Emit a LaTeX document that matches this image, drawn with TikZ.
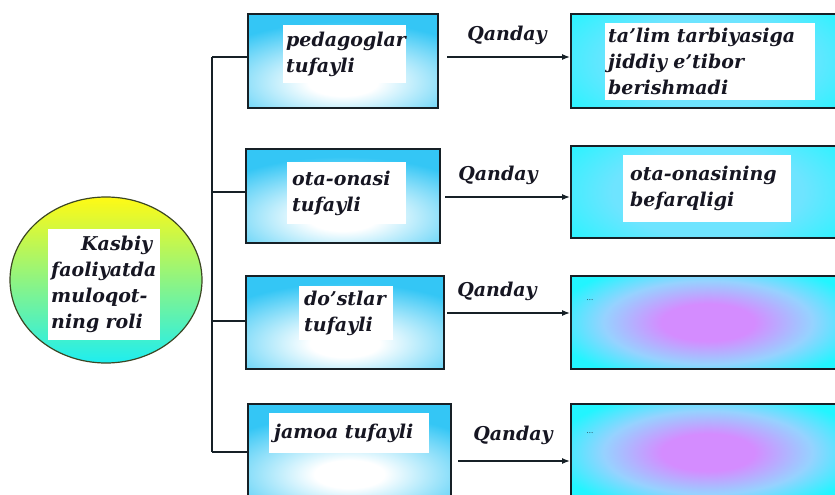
\documentclass[tikz,border=0pt]{standalone}
\usepackage{fontspec}
\setmainfont{DejaVu Serif}
\usetikzlibrary{arrows.meta,calc,shapes.geometric}

\definecolor{lblue}{RGB}{52,198,245}
\definecolor{rcyan}{RGB}{34,245,255}
\definecolor{pinkc}{RGB}{212,140,255}
\definecolor{midblue}{RGB}{150,210,255}
\definecolor{paleblue}{RGB}{110,228,255}
\definecolor{ybright}{RGB}{255,250,20}
\definecolor{ymid}{RGB}{205,248,150}
\definecolor{cbright}{RGB}{30,238,240}
\definecolor{edge}{RGB}{22,32,38}
\definecolor{rim}{RGB}{60,70,35}
\definecolor{ink}{RGB}{22,22,34}

% white glow low in the left-hand boxes
\pgfdeclareradialshading{whiteglow}{\pgfpoint{0bp}{0bp}}{%
  color(0bp)=(white); color(3bp)=(white); color(13bp)=(lblue);
  color(50bp)=(lblue)}
% soft colour spots inside the right-hand boxes
\pgfdeclareradialshading{pinkglow}{\pgfpoint{0bp}{0bp}}{%
  color(0bp)=(pinkc); color(4bp)=(pinkc); color(9bp)=(midblue);
  color(13.5bp)=(rcyan); color(50bp)=(rcyan)}
\pgfdeclareradialshading{softglow}{\pgfpoint{0bp}{0bp}}{%
  color(0bp)=(paleblue); color(7bp)=(paleblue);
  color(13bp)=(rcyan); color(50bp)=(rcyan)}

\newcommand\lblfont{\fontsize{19}{26}\selectfont\bfseries\itshape}

\tikzset{
  lbox/.style={draw=edge, line width=1.6pt, fill=lblue, anchor=north west,
    inner sep=0pt,
    path picture={\shade[shading=whiteglow]
      ($(path picture bounding box.center)!0.45!(path picture bounding box.south)$)
      ellipse (290pt and 116pt);}},
  rbox/.style={draw=edge, line width=1.6pt, fill=rcyan, anchor=north west,
    inner sep=0pt, minimum width=300pt},
  pinkspot/.style={path picture={\shade[shading=pinkglow]
      ([xshift=137pt]path picture bounding box.west) ellipse (290pt and 116pt);}},
  softspot/.style={path picture={\shade[shading=softglow]
      ([xshift=137pt]path picture bounding box.west) ellipse (340pt and 160pt);}},
  tbox/.style={fill=white, inner xsep=3pt, inner ysep=0pt, align=left,
    anchor=north west, font=\lblfont, text=ink},
  qlbl/.style={font=\lblfont, text=ink, inner sep=0pt},
  dotlbl/.style={font=\fontsize{7}{8}\selectfont, text=ink, inner sep=0pt},
  link/.style={draw=edge, line width=1.3pt},
  arr/.style={draw=edge, line width=1.3pt, -{Latex[length=8pt,width=6pt]}},
}

\begin{document}
\begin{tikzpicture}[x=1pt,y=-1pt]
\clip (0,0) rectangle (835,495);
\fill[white] (0,0) rectangle (835,495);

% central topic
\node[ellipse, draw=rim, line width=1.2pt, top color=ybright, middle color=ymid,
      bottom color=cbright, minimum width=192pt, minimum height=166pt,
      inner sep=0pt] (core) at (106,280) {};
\node[tbox, text width=106pt, minimum height=111pt] (coret) at (48,229)
  {\hspace*{30pt}Kasbiy\\faoliyatda\\muloqot-\\ning roli};

% left column: sources
\node[lbox, minimum width=190pt, minimum height=94pt] (l1) at (247,13) {};
\node[lbox, minimum width=194pt, minimum height=94pt] (l2) at (245,148) {};
\node[lbox, minimum width=198pt, minimum height=93pt] (l3) at (245,275) {};
\node[lbox, minimum width=203pt, minimum height=97pt] (l4) at (247,403) {};

\node[tbox, text width=117pt, minimum height=58pt] (l1t) at (283,25) {pedagoglar\\tufayli};
\node[tbox, text width=113pt, minimum height=62pt] (l2t) at (287,162) {\hspace*{2pt}ota-onasi\\\hspace*{2pt}tufayli};
\node[tbox, text width=88pt, minimum height=54pt] (l3t) at (299,286) {\hspace*{2pt}do'stlar\\\hspace*{2pt}tufayli};
\node[tbox, text width=154pt, minimum height=40pt] (l4t) at (269,413) {\hspace*{2pt}jamoa tufayli};

% right column: consequences
\node[rbox, softspot, minimum height=94pt] (r1) at (570,13) {};
\node[rbox, softspot, minimum height=92pt] (r2) at (570,145) {};
\node[rbox, pinkspot, minimum height=93pt] (r3) at (570,275) {};
\node[rbox, pinkspot, minimum height=97pt] (r4) at (570,403) {};

\node[tbox, text width=204pt, minimum height=77pt] (r1t) at (605,23)
  {ta'lim tarbiyasiga\\jiddiy e'tibor\\berishmadi};
\node[tbox, text width=162pt, minimum height=67pt] (r2t) at (623,155)
  {\hspace*{4pt}ota-onasining\\\hspace*{4pt}befarqligi};
\node[dotlbl] (r3t) at (590,300) {...};
\node[dotlbl] (r4t) at (590,433) {...};

% trunk and branches
\coordinate (b1) at (212,57);
\coordinate (b2) at (212,192);
\coordinate (b3) at (212,321);
\coordinate (b4) at (212,452);
\draw[link] (b1) -- (b4);
\draw[link] (b1) -- (b1 -| l1.west);
\draw[link] (b2) -- (b2 -| l2.west);
\draw[link] (b3) -- (b3 -| l3.west);
\draw[link] (b4) -- (b4 -| l4.west);

% arrows with labels
\coordinate (a1) at (447,57);
\coordinate (a2) at (445,197);
\coordinate (a3) at (447,313);
\coordinate (a4) at (458,461);
\draw[arr] (a1) -- (a1 -| r1.west);
\draw[arr] (a2) -- (a2 -| r2.west);
\draw[arr] (a3) -- (a3 -| r3.west);
\draw[arr] (a4) -- (a4 -| r4.west);

\node[qlbl] (q1) at (507,35) {Qanday};
\node[qlbl] (q2) at (498,175) {Qanday};
\node[qlbl] (q3) at (497,291) {Qanday};
\node[qlbl] (q4) at (513,435) {Qanday};
\end{tikzpicture}
\end{document}
